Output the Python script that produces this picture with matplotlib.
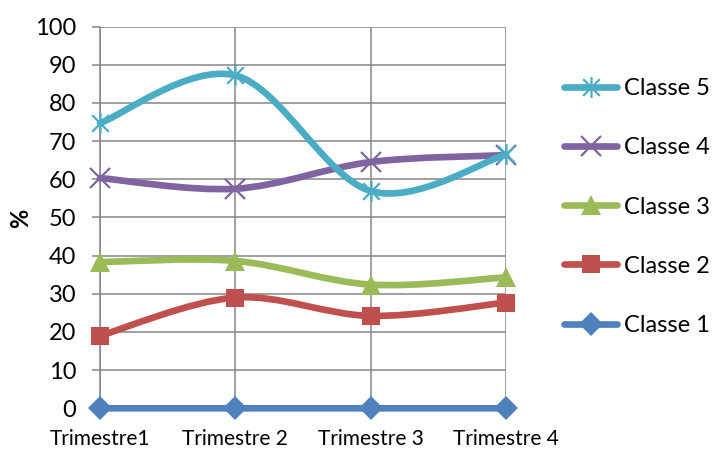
import numpy as np
import matplotlib
matplotlib.use("Agg")
import matplotlib.pyplot as plt
from matplotlib.path import Path
from matplotlib.patches import PathPatch
from matplotlib.lines import Line2D

# Data
trimestres = ["Trimestre1", "Trimestre 2", "Trimestre 3", "Trimestre 4"]
classe1 = [0, 0, 0, 0]
classe2 = [19, 29, 24.2, 27.7]
classe3 = [38.3, 38.6, 32.4, 34.3]
classe4 = [60.3, 57.5, 64.5, 66.3]
classe5 = [74.7, 87.2, 56.9, 66.5]

series_names = ["Classe 1", "Classe 2", "Classe 3", "Classe 4", "Classe 5"]
series_values = [classe1, classe2, classe3, classe4, classe5]
colors = ["#4F81BD", "#C0504D", "#9BBB59", "#8064A2", "#4BACC6"]

# Asterisk marker: vertical bar plus a cross
ast_verts = [(0, -1), (0, 1), (-0.8, -0.8), (0.8, 0.8), (-0.8, 0.8), (0.8, -0.8)]
ast_codes = [Path.MOVETO, Path.LINETO] * 3
asterisk = Path(ast_verts, ast_codes)

markers = ["D", "s", "^", "x", asterisk]
msizes = [12.5, 13.5, 14.5, 14, 15]
filled = [True, True, True, False, False]

FONT = "Lato"
plt.rcParams["font.family"] = [FONT, "DejaVu Sans"]

fig = plt.figure(figsize=(7.12, 4.49), dpi=100)
ax = fig.add_axes([100 / 712, 1 - 408.3 / 449, 406 / 712, (408.3 - 26.5) / 449])

x = np.arange(len(trimestres))


def smooth_path(xs, ys):
    # Cardinal (Catmull-Rom style) Bezier segments through the points
    pts = np.column_stack([xs, ys]).astype(float)
    n = len(pts)
    verts = [tuple(pts[0])]
    codes = [Path.MOVETO]
    for i in range(n - 1):
        p0 = pts[i - 1] if i > 0 else pts[i]
        p1 = pts[i]
        p2 = pts[i + 1]
        p3 = pts[i + 2] if i + 2 < n else pts[i + 1]
        c1 = p1 + (p2 - p0) / 6.0
        c2 = p2 - (p3 - p1) / 6.0
        verts += [tuple(c1), tuple(c2), tuple(p2)]
        codes += [Path.CURVE4] * 3
    return Path(verts, codes)


for i, (name, vals, col) in enumerate(zip(series_names, series_values, colors)):
    patch = PathPatch(smooth_path(x, vals), facecolor="none", edgecolor=col,
                      linewidth=4.8, capstyle="round", joinstyle="round",
                      zorder=3 + i, clip_on=False)
    ax.add_patch(patch)
    if filled[i]:
        ax.plot(x, vals, linestyle="none", marker=markers[i], markersize=msizes[i],
                markerfacecolor=col, markeredgecolor=col, markeredgewidth=0,
                zorder=3 + i, clip_on=False)
    else:
        ax.plot(x, vals, linestyle="none", marker=markers[i], markersize=msizes[i],
                markeredgecolor=col, markeredgewidth=1.6, zorder=3 + i,
                clip_on=False)

ax.set_xlim(0, 3)
ax.set_ylim(0, 100)
ax.set_yticks(np.arange(0, 101, 10))
ax.set_xticks(x)
ax.set_xticklabels(trimestres, fontsize=15)
ax.tick_params(axis="y", labelsize=17, length=6, width=1.1, color="#868686", pad=11)
ax.tick_params(axis="x", length=0, pad=15)

grid_col = "#868686"
ax.grid(True, color=grid_col, linewidth=1.1, zorder=0)
ax.set_axisbelow(True)
for s in ["top", "right"]:
    ax.spines[s].set_visible(False)
for s in ["left", "bottom"]:
    ax.spines[s].set_color(grid_col)
    ax.spines[s].set_linewidth(1.1)

fig.text(21 / 712, 1 - 218 / 449, "%", rotation=90, fontsize=17, fontweight="bold",
         ha="center", va="center")

# Legend, Classe 5 on top
handles = []
for i in reversed(range(5)):
    if filled[i]:
        h = Line2D([], [], color=colors[i], linewidth=4.8, solid_capstyle="round",
                   marker=markers[i], markersize=msizes[i], markerfacecolor=colors[i],
                   markeredgewidth=0)
    else:
        h = Line2D([], [], color=colors[i], linewidth=4.8, solid_capstyle="round",
                   marker=markers[i], markersize=msizes[i], markeredgecolor=colors[i],
                   markeredgewidth=1.6)
    handles.append(h)
leg = fig.legend(handles, [series_names[i] for i in reversed(range(5))],
                 loc="center left", bbox_to_anchor=(564 / 712, 1 - 207 / 449),
                 frameon=False, fontsize=17, handlelength=2.25, handletextpad=0.3,
                 labelspacing=1.62, borderaxespad=0, borderpad=0)

fig.savefig("out.png", dpi=100)
